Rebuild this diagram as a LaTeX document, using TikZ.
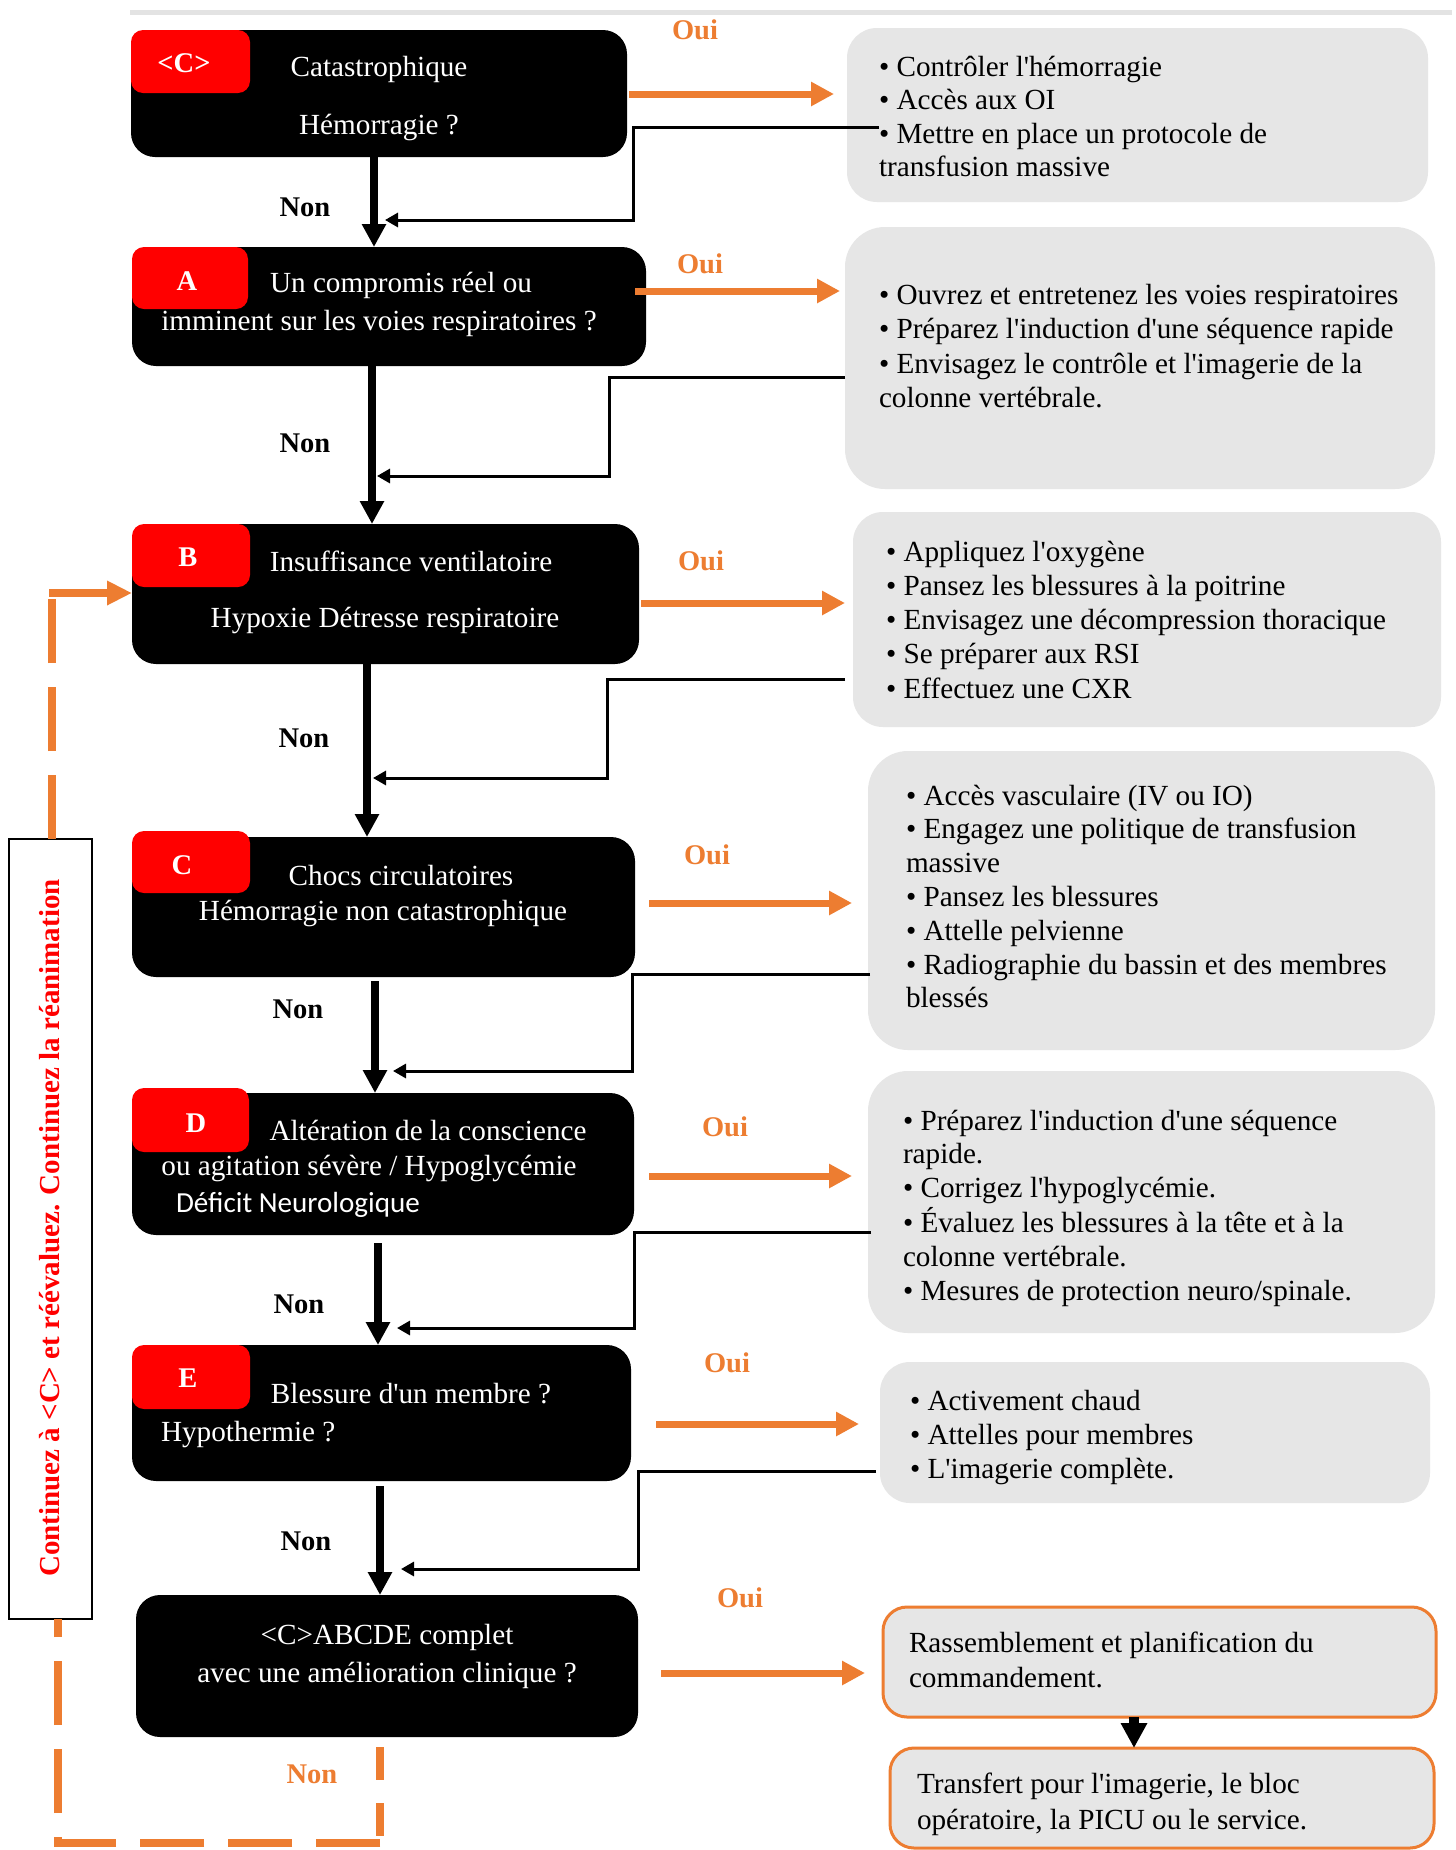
\documentclass[tikz,border=0pt]{standalone}
\usepackage{fontspec}
\setmainfont{Liberation Serif}
\newfontfamily\tnr{Liberation Serif}
\newfontfamily\carl{Carlito}
\usetikzlibrary{arrows.meta}

\definecolor{orng}{HTML}{ED7D31}
\definecolor{panel}{HTML}{E6E6E6}
\definecolor{tabred}{HTML}{FF0000}
\definecolor{rulegray}{HTML}{E3E3E3}

% lines of a text block, first baseline at the node's base
\newcommand{\txtlines}[2][34]{{\fontsize{29.2}{#1}\selectfont\begin{tabular}[t]{@{}l@{}}#2\end{tabular}}}

\tikzset{
  blackbox/.style={fill=black, rounded corners=24pt, inner sep=0pt, outer sep=0pt},
  tabbox/.style={fill=tabred, rounded corners=12pt, inner sep=0pt, outer sep=0pt},
  panelbox/.style={fill=panel, rounded corners=30pt, inner sep=0pt, outer sep=0pt},
  endbox/.style={fill=panel, draw=orng, line width=3pt, rounded corners=24pt, inner sep=0pt, outer sep=0pt},
  txt/.style={font=\tnr\fontsize{29.2}{34}\selectfont, inner sep=0pt, outer sep=0pt},
  wtxt/.style={txt, text=white},
  tabtxt/.style={font=\tnr\bfseries\fontsize{28.5}{34}\selectfont, text=white, inner sep=0pt},
  nonlbl/.style={font=\tnr\bfseries\fontsize{28.5}{34}\selectfont, inner sep=0pt},
  ouilbl/.style={nonlbl, text=orng},
  mainarr/.style={line width=8pt, -{Triangle[length=23pt,width=23pt]}},
  ouiarr/.style={orng, line width=7pt, -{Triangle[length=23pt,width=23pt]}},
  retarr/.style={line width=3pt, -{Triangle[length=13pt,width=14pt]}},
  loopln/.style={orng, line width=8pt},
}

\begin{document}
\begin{tikzpicture}[x=1pt,y=-1pt]
\useasboundingbox (0,0) rectangle (1456,1850);
\fill[white] (0,0) rectangle (1456,1850);

% thin rule along the top
\draw[rulegray, line width=5pt] (130,12) -- (1452,12);

% ---------- question boxes ----------
\node[blackbox, minimum width=496pt, minimum height=127pt] (c0) at (379,93.5) {};
\node[tabbox, minimum width=119pt, minimum height=63pt] (t0) at (190.5,61.5) {};
\node[tabtxt, anchor=base] (t0l) at (184,72) {<C>};
\node[wtxt, anchor=base] (c0l1) at (379,76) {Catastrophique};
\node[wtxt, anchor=base] (c0l2) at (379,134) {Hémorragie ?};

\node[blackbox, minimum width=514pt, minimum height=119pt] (A) at (389,306.5) {};
\node[tabbox, minimum width=116pt, minimum height=62pt] (tA) at (190,278) {};
\node[tabtxt, anchor=base] (tAl) at (187,290) {A};
\node[wtxt, anchor=base] (Al1) at (401,292) {Un compromis réel ou};
\node[wtxt, anchor=base] (Al2) at (379,330) {imminent sur les voies respiratoires ?};

\node[blackbox, minimum width=507pt, minimum height=140pt] (B) at (385.5,594) {};
\node[tabbox, minimum width=118pt, minimum height=63pt] (tB) at (191,555.5) {};
\node[tabtxt, anchor=base] (tBl) at (188,566) {B};
\node[wtxt, anchor=base] (Bl1) at (411,571) {Insuffisance ventilatoire};
\node[wtxt, anchor=base] (Bl2) at (385,627) {Hypoxie Détresse respiratoire};

\node[blackbox, minimum width=503pt, minimum height=140pt] (C) at (383.5,907) {};
\node[tabbox, minimum width=118pt, minimum height=62pt] (tC) at (191,862) {};
\node[tabtxt, anchor=base] (tCl) at (182,874) {C};
\node[wtxt, anchor=base] (Cl1) at (401,885) {Chocs circulatoires};
\node[wtxt, anchor=base] (Cl2) at (383,920) {Hémorragie non catastrophique};

\node[blackbox, minimum width=502pt, minimum height=142pt] (D) at (383,1164) {};
\node[tabbox, minimum width=117pt, minimum height=64pt] (tD) at (190.5,1120) {};
\node[tabtxt, anchor=base] (tDl) at (196,1132) {D};
\node[wtxt, anchor=base] (Dl1) at (428,1140) {Altération de la conscience};
\node[wtxt, anchor=base] (Dl2) at (369,1175) {ou agitation sévère / Hypoglycémie};
\node[wtxt, font=\carl\fontsize{29.1}{34}\selectfont, anchor=base west] (Dl3) at (176,1212) {Déficit Neurologique};

\node[blackbox, minimum width=499pt, minimum height=136pt] (E) at (381.5,1413) {};
\node[tabbox, minimum width=118pt, minimum height=64pt] (tE) at (191,1377) {};
\node[tabtxt, anchor=base] (tEl) at (188,1387) {E};
\node[wtxt, anchor=base] (El1) at (411,1403) {Blessure d'un membre ?};
\node[wtxt, anchor=base west] (El2) at (161,1441) {Hypothermie ?};

\node[blackbox, minimum width=502pt, minimum height=142pt] (F) at (387,1666) {};
\node[wtxt, anchor=base] (Fl1) at (387,1644) {<C>ABCDE complet};
\node[wtxt, anchor=base] (Fl2) at (387,1682) {avec une amélioration clinique ?};

% ---------- action panels ----------
\node[panelbox, minimum width=581pt, minimum height=174pt] (g1) at (1137.5,115) {};
\node[txt, anchor=base west] (g1t) at (879,76) {\txtlines[33.6]{• Contrôler l'hémorragie\\• Accès aux OI\\• Mettre en place un protocole de\\transfusion massive}};

\node[panelbox, rounded corners=40pt, minimum width=590pt, minimum height=262pt] (g2) at (1140,358) {};
\node[txt, anchor=base west] (g2t) at (879,304) {\txtlines[34.5]{• Ouvrez et entretenez les voies respiratoires\\• Préparez l'induction d'une séquence rapide\\• Envisagez le contrôle et l'imagerie de la\\colonne vertébrale.}};

\node[panelbox, minimum width=588pt, minimum height=215pt] (g3) at (1147,619.5) {};
\node[txt, anchor=base west] (g3t) at (886,561) {\txtlines[34.3]{• Appliquez l'oxygène\\• Pansez les blessures à la poitrine\\• Envisagez une décompression thoracique\\• Se préparer aux RSI\\• Effectuez une CXR}};

\node[panelbox, rounded corners=40pt, minimum width=567pt, minimum height=299pt] (g4) at (1151.5,900.5) {};
\node[txt, anchor=base west] (g4t) at (906,805) {\txtlines[33.8]{• Accès vasculaire (IV ou IO)\\• Engagez une politique de transfusion\\massive\\• Pansez les blessures\\• Attelle pelvienne\\• Radiographie du bassin et des membres\\blessés}};

\node[panelbox, rounded corners=40pt, minimum width=567pt, minimum height=262pt] (g5) at (1151.5,1202) {};
\node[txt, anchor=base west] (g5t) at (903,1130) {\txtlines[33.8]{• Préparez l'induction d'une séquence\\rapide.\\• Corrigez l'hypoglycémie.\\• Évaluez les blessures à la tête et à la\\colonne vertébrale.\\• Mesures de protection neuro/spinale.}};

\node[panelbox, minimum width=550pt, minimum height=141pt] (g6) at (1155,1432.5) {};
\node[txt, anchor=base west] (g6t) at (910,1410) {\txtlines[34]{• Activement chaud\\• Attelles pour membres\\• L'imagerie complète.}};

\node[endbox, minimum width=553pt, minimum height=110pt] (rs) at (1159.5,1662) {};
\node[txt, anchor=base west] (rst) at (909,1652) {\txtlines[35.5]{Rassemblement et planification du\\commandement.}};

\node[endbox, minimum width=544pt, minimum height=100pt] (tr) at (1162,1798) {};
\node[txt, anchor=base west] (trt) at (917,1793) {\txtlines[36]{Transfert pour l'imagerie, le bloc\\opératoire, la PICU ou le service.}};

% ---------- "Non" path down the left column ----------
\coordinate (m1) at (374,0);
\coordinate (m2) at (372,0);
\coordinate (m3) at (367,0);
\coordinate (m4a) at (375,981);
\coordinate (m5a) at (378,1243);
\coordinate (m6a) at (380,1486);
\draw[mainarr] (c0.south -| m1) -- (A.north -| m1);
\draw[mainarr] (A.south -| m2) -- (B.north -| m2);
\draw[mainarr] (B.south -| m3) -- (C.north -| m3);
\draw[mainarr] (m4a) -- (D.north -| m4a);
\draw[mainarr] (m5a) -- (E.north -| m5a);
\draw[mainarr] (m6a) -- (F.north -| m6a);

\node[nonlbl, anchor=base] (n1) at (305,216) {Non};
\node[nonlbl, anchor=base] (n2) at (305,452) {Non};
\node[nonlbl, anchor=base] (n3) at (304,747) {Non};
\node[nonlbl, anchor=base] (n4) at (298,1018) {Non};
\node[nonlbl, anchor=base] (n5) at (299,1313) {Non};
\node[nonlbl, anchor=base] (n6) at (306,1550) {Non};

% ---------- return lines from the panels ----------
\coordinate (r1a) at (879,127);  \coordinate (r1b) at (633,220);  \coordinate (r1c) at (385,220);
\coordinate (r2a) at (845,377);  \coordinate (r2b) at (609,476);  \coordinate (r2c) at (377,476);
\coordinate (r3a) at (845,679);  \coordinate (r3b) at (607,778);  \coordinate (r3c) at (373,778);
\coordinate (r4a) at (870,974);  \coordinate (r4b) at (632,1071); \coordinate (r4c) at (393,1071);
\coordinate (r5a) at (871,1232); \coordinate (r5b) at (634,1328); \coordinate (r5c) at (397,1328);
\coordinate (r6a) at (876,1471); \coordinate (r6b) at (638,1569); \coordinate (r6c) at (401,1569);
\draw[retarr] (r1a) -| (r1b) -- (r1c);
\draw[retarr] (r2a) -| (r2b) -- (r2c);
\draw[retarr] (r3a) -| (r3b) -- (r3c);
\draw[retarr] (r4a) -| (r4b) -- (r4c);
\draw[retarr] (r5a) -| (r5b) -- (r5c);
\draw[retarr] (r6a) -| (r6b) -- (r6c);

% ---------- "Oui" arrows ----------
\coordinate (o1a) at (629,94);   \coordinate (o1b) at (834,94);
\coordinate (o2a) at (635,291);  \coordinate (o2b) at (840,291);
\coordinate (o3a) at (641,603);  \coordinate (o3b) at (845,603);
\coordinate (o4a) at (649,903);  \coordinate (o4b) at (852,903);
\coordinate (o5a) at (649,1176); \coordinate (o5b) at (852,1176);
\coordinate (o6a) at (656,1424); \coordinate (o6b) at (859,1424);
\coordinate (o7a) at (661,1673); \coordinate (o7b) at (865,1673);
\foreach \k in {1,...,7} { \draw[ouiarr] (o\k a) -- (o\k b); }

\node[ouilbl, anchor=base] (y1) at (695,39) {Oui};
\node[ouilbl, anchor=base] (y2) at (700,273) {Oui};
\node[ouilbl, anchor=base] (y3) at (701,570) {Oui};
\node[ouilbl, anchor=base] (y4) at (707,864) {Oui};
\node[ouilbl, anchor=base] (y5) at (725,1136) {Oui};
\node[ouilbl, anchor=base] (y6) at (727,1372) {Oui};
\node[ouilbl, anchor=base] (y7) at (740,1607) {Oui};

% command step leads to transfer
\coordinate (bx) at (1134,0);
\draw[line width=10pt, -{Triangle[length=25pt,width=25pt]}] (rs.south -| bx) -- (tr.north -| bx);

% ---------- re-evaluation loop ----------
\node[draw=black, line width=1.6pt, fill=white, minimum width=83pt, minimum height=780pt, inner sep=0pt, outer sep=0pt] (lb) at (50.5,1229) {};
\node[font=\tnr\bfseries\fontsize{29}{34}\selectfont, text=tabred, rotate=90, anchor=base, inner sep=0pt] (lbt) at (59,1228) {Continuez à <C> et réévaluez. Continuez la réanimation};

\coordinate (lp1) at (380,1747);
\coordinate (lp2) at (380,1843);
\coordinate (lp3) at (58,1843);
\coordinate (lx1) at (58,0);
\coordinate (lx2) at (52,598);
\coordinate (la) at (49,593);
\draw[loopln, dash pattern=on 33pt off 23pt] (lp1) -- (lp2);
\draw[loopln, dash pattern=on 64pt off 24pt] (lp2) -- (lp3) -- (lb.south -| lx1);
\draw[loopln, dash pattern=on 64pt off 24pt] (lb.north -| lx2) -- (lx2);
\draw[loopln, -{Triangle[length=25pt,width=23pt]}] (la) -- (B.west |- la);
\node[ouilbl, anchor=base] (n7) at (312,1783) {Non};
\end{tikzpicture}
\end{document}
